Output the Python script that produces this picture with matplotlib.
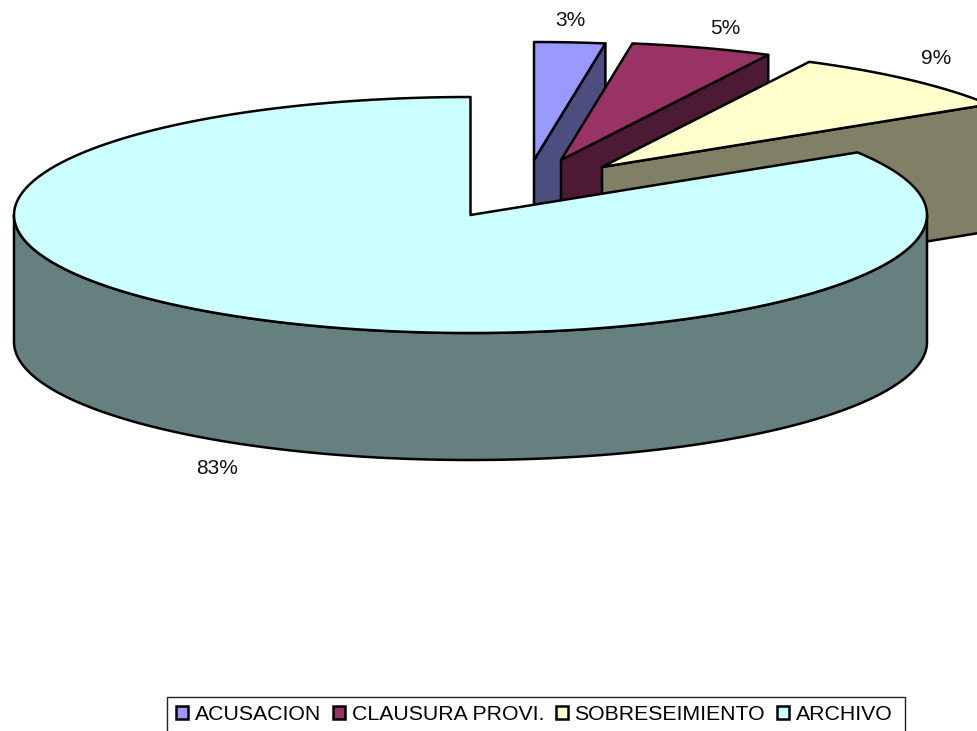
import numpy as np
import matplotlib
matplotlib.use("Agg")
import matplotlib.pyplot as plt
from matplotlib.patches import Patch, Polygon, Rectangle

plt.rcParams["font.family"] = ["Liberation Sans", "DejaVu Sans"]

categories = ["ACUSACION", "CLAUSURA PROVI.", "SOBRESEIMIENTO", "ARCHIVO"]
shares = [2.5, 5.0, 8.6, 83.9]
pct_labels = ["3%", "5%", "9%", "83%"]

top_colors = ["#9999FF", "#993366", "#FFFFCC", "#CCFFFF"]
wall_colors = ["#4D4D80", "#4D1A33", "#808066", "#668080"]

# pie geometry in image pixels
RX, RY, DEPTH = 456.5, 118, 127
centers = [(534, 160), (561, 160), (602, 167), (470.5, 215)]
label_pos = [(570, 21), (725, 28), (936, 59), (217, 468)]


def rim(cx, cy, a0, a1):
    # a = clockwise angle from 12 o'clock, in degrees
    t = np.radians(np.linspace(a0, a1, 200))
    return np.column_stack([cx + RX * np.sin(t), cy - RY * np.cos(t)])


fig = plt.figure(figsize=(9.78, 7.31), dpi=100)
ax = fig.add_axes([0, 0, 1, 1])
ax.set_xlim(0, 978)
ax.set_ylim(731, 0)
ax.axis("off")

edges = np.cumsum([0] + shares) * 3.6
kw = dict(edgecolor="black", linewidth=1.8, joinstyle="round")
for i in range(len(categories)):
    cx, cy = centers[i]
    a0, a1 = edges[i], edges[i + 1]
    pts = rim(cx, cy, a0, a1)
    if i < 3:
        # inner wall seen along the clockwise edge of the slice
        end = pts[-1]
        wall = [(cx, cy), end, (end[0], end[1] + DEPTH), (cx, cy + DEPTH)]
        ax.add_patch(Polygon(wall, closed=True, facecolor=wall_colors[i], **kw))
    else:
        # outer wall of the big slice, front half only
        front = rim(cx, cy, 90, 270)
        wall = np.vstack([front, (front + [0, DEPTH])[::-1]])
        ax.add_patch(Polygon(wall, closed=True, facecolor=wall_colors[i], **kw))
    top = np.vstack([[(cx, cy)], pts])
    ax.add_patch(Polygon(top, closed=True, facecolor=top_colors[i], **kw))
    ax.text(*label_pos[i], pct_labels[i], fontsize=15, ha="center", va="center", color="#111111")

ax.add_patch(Rectangle((167, 697), 738, 50, facecolor="white", edgecolor="#222222", linewidth=1))
handles = [Patch(facecolor=c, edgecolor="black", linewidth=1.8) for c in top_colors]
ax.legend(
    handles,
    categories,
    loc="center left",
    bbox_to_anchor=(176, 714.5),
    bbox_transform=ax.transData,
    ncol=4,
    frameon=False,
    fontsize=15.3,
    handlelength=0.58,
    handleheight=0.58,
    handletextpad=0.3,
    columnspacing=0.56,
    borderpad=0,
    borderaxespad=0,
)

fig.savefig("out.png", dpi=100)
